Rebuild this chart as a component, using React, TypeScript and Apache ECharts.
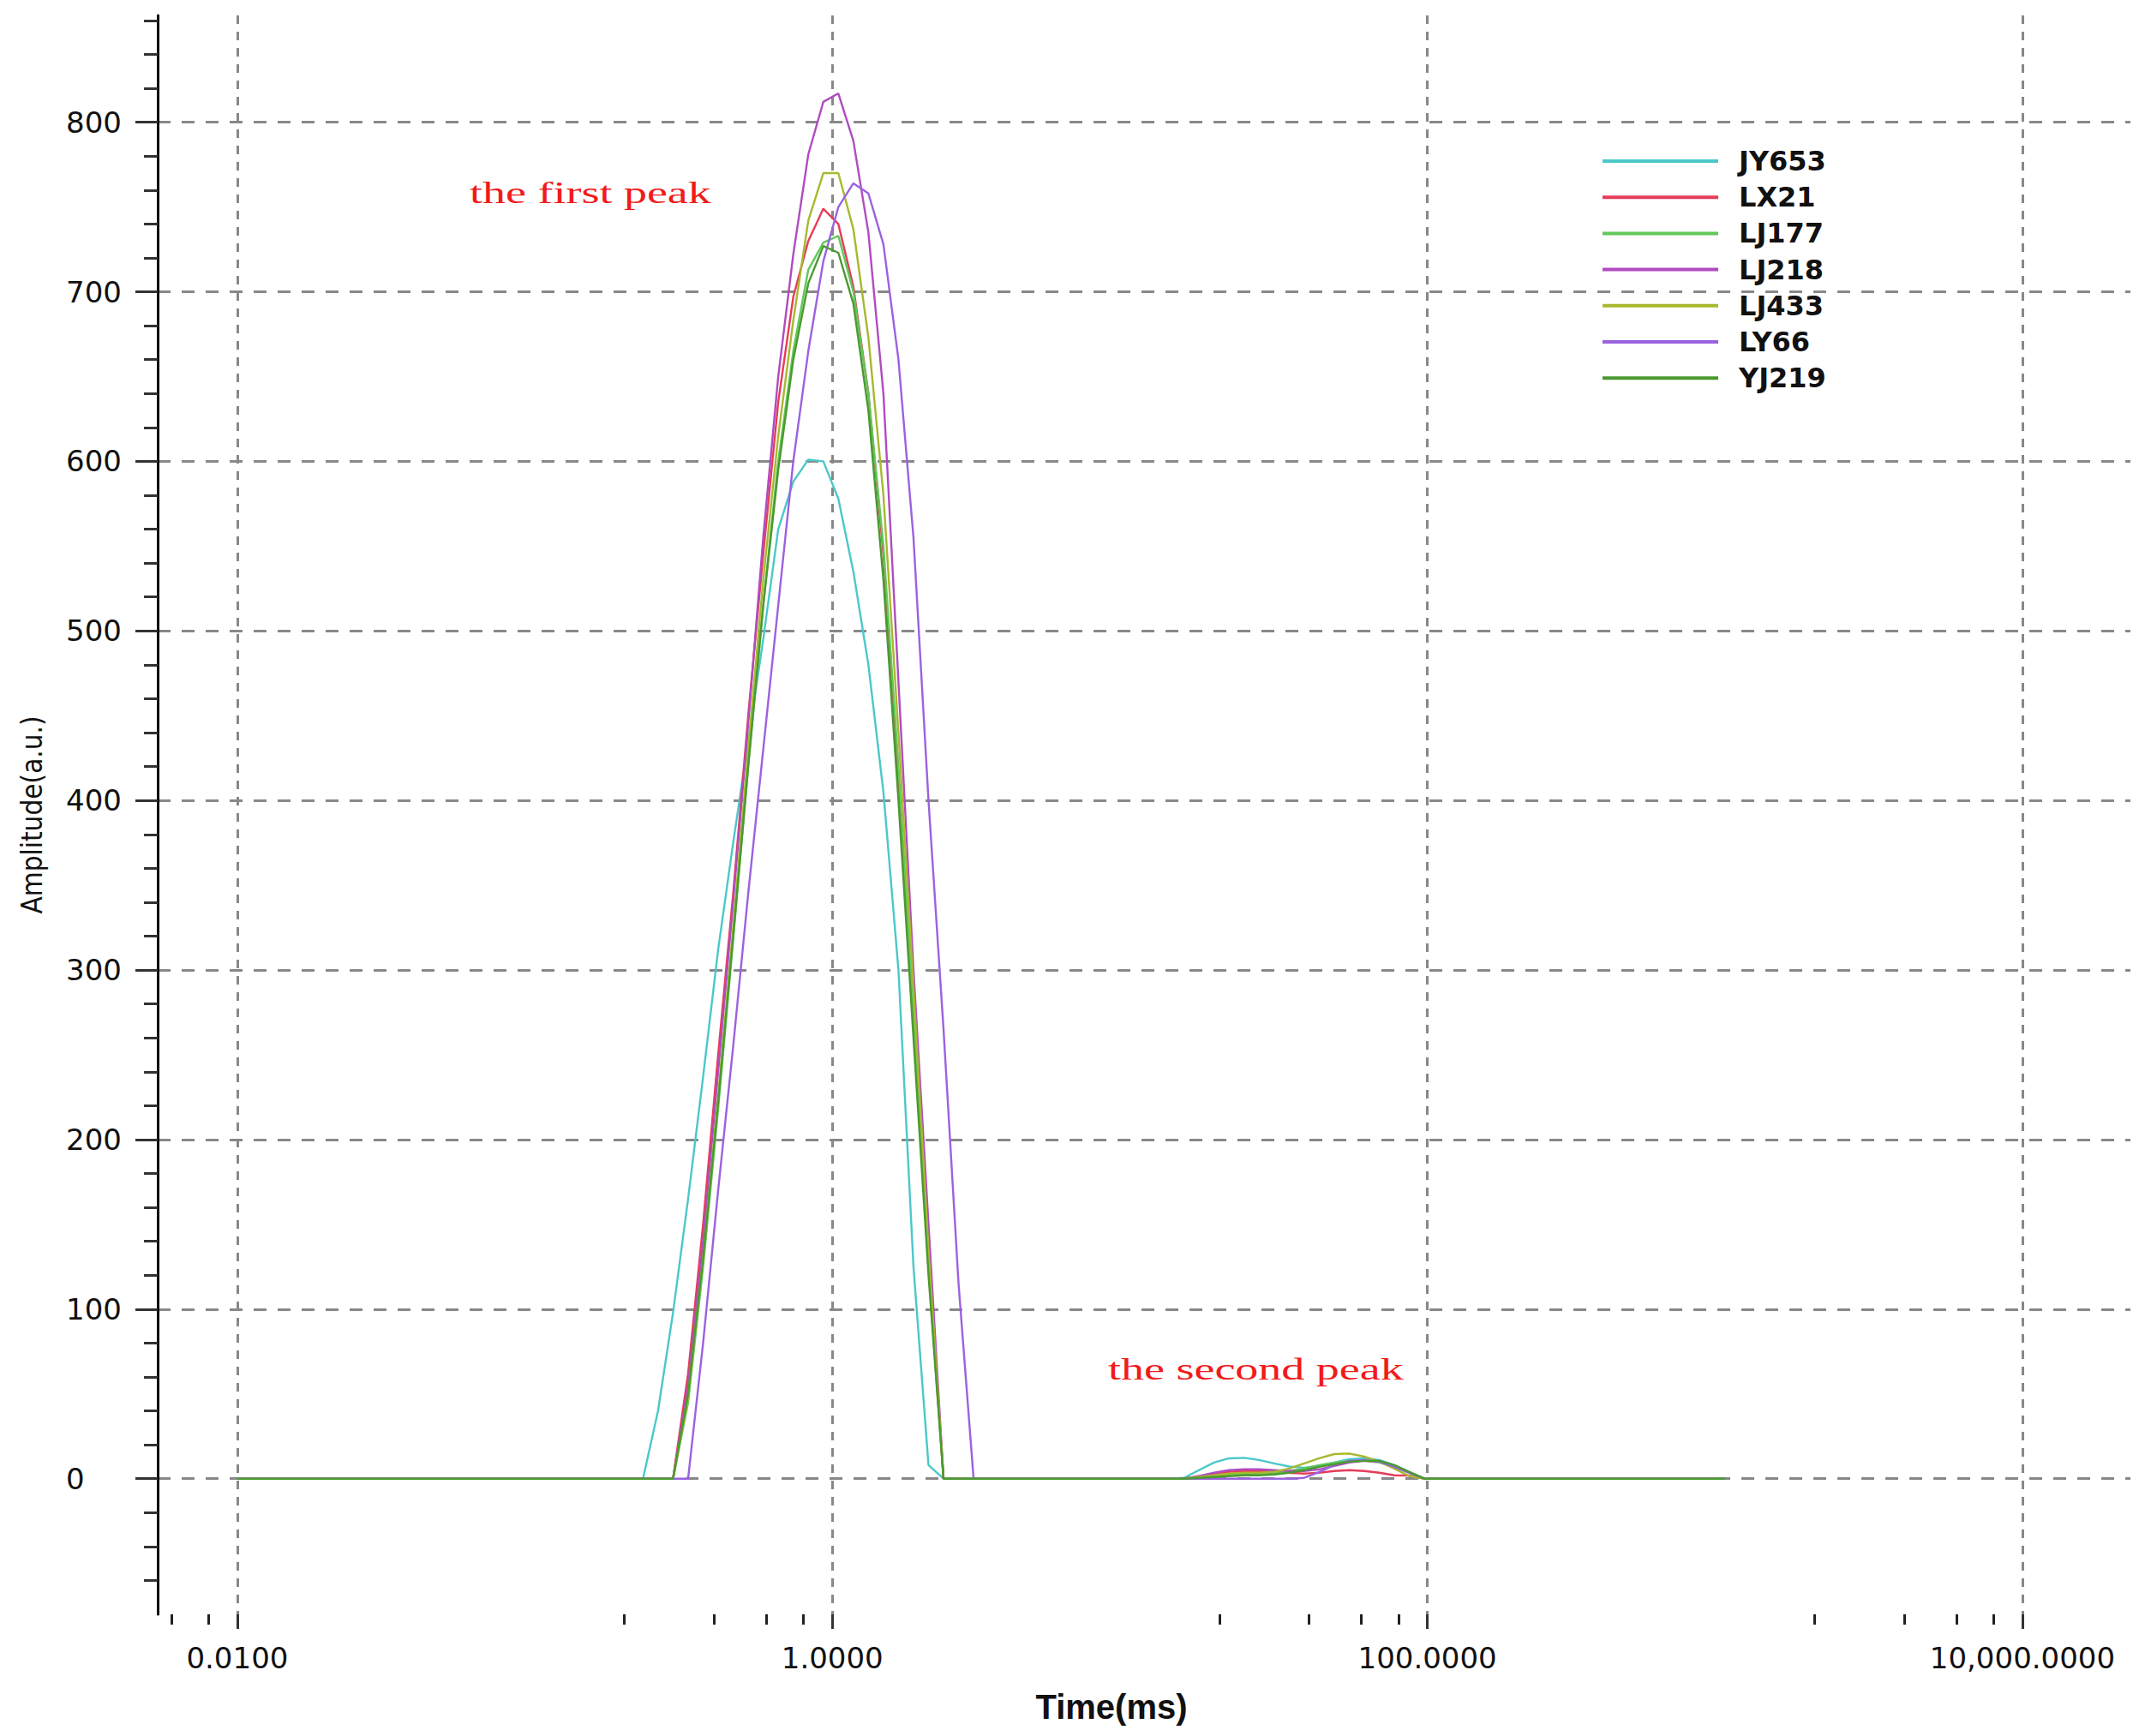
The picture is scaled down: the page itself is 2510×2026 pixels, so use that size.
import React, { useEffect, useRef } from "react";
import * as echarts from "echarts";

// Sample times (ms) of the T2-like spectra (log-spaced acquisition grid)
const TIME_MS = [
  0.01,
  0.231, 0.2595, 0.2915, 0.3275, 0.3678, 0.4132, 0.4642, 0.5214, 0.5857, 0.6579, 0.7391, 0.8302,
  0.9326, 1.0476, 1.1768, 1.3219, 1.485, 1.6681, 1.8738, 2.1049, 2.3645, 2.6561, 2.9836,
  13.53, 15.2, 17.07, 19.18, 21.54, 24.2, 27.19, 30.54, 34.31, 38.54, 43.29, 48.63, 54.62, 61.36,
  68.93, 77.43, 86.98, 97.7,
  1000,
];

const JY653 = [0, 0, 40, 98, 165, 237, 312, 375, 435, 495, 560, 588, 601, 600, 578, 535, 480, 405, 300, 125, 8, 0, 0, 0, 0, 0.5, 5, 9.5, 12, 12.3, 11, 9, 7.2, 6.5, 7.5, 9.5, 11.5, 12, 11, 8, 4, 0, 0];
const LX21 = [0, 0, 0, 0, 62, 150, 250, 345, 450, 545, 635, 697, 730, 749, 740, 703, 640, 545, 410, 268, 125, 0, 0, 0, 0, 0, 1.5, 3, 4, 4.5, 4.5, 4.2, 3.5, 3, 3.5, 4.5, 5, 4.5, 3.5, 2, 1.8, 0, 0];
const LJ177 = [0, 0, 0, 0, 45, 125, 218, 318, 420, 515, 600, 665, 713, 729, 733, 700, 640, 550, 420, 275, 128, 0, 0, 0, 0, 0, 0.5, 1.5, 2.5, 3, 3, 3.5, 4.5, 6, 8, 9.5, 10.5, 10.5, 9.5, 7, 3.5, 0, 0];
const LJ218 = [0, 0, 0, 0, 55, 140, 240, 340, 445, 555, 650, 722, 781, 812, 817, 789, 735, 640, 470, 300, 150, 0, 0, 0, 0, 0, 1.5, 3.5, 5, 5.5, 5.5, 5, 4.5, 4.5, 5.5, 7.5, 9.5, 10.5, 10, 7.5, 3.5, 0, 0];
const LJ433 = [0, 0, 0, 0, 48, 130, 225, 325, 430, 530, 615, 683, 742, 770, 770, 737, 673, 580, 440, 290, 135, 0, 0, 0, 0, 0, 1, 2, 3, 3.5, 3.5, 4, 6, 9, 12, 14.5, 14.8, 13, 10, 6, 1.5, 0, 0];
const LY66 = [0, 0, 0, 0, 0, 80, 170, 255, 345, 430, 515, 600, 665, 718, 750, 764, 758, 728, 660, 555, 400, 265, 115, 0, 0, 0, 0, 0, 0, 0, 0, 0, 0, 0.5, 4, 8, 10.5, 11, 10, 7, 3.5, 0, 0];
const YJ219 = [0, 0, 0, 0, 50, 130, 222, 320, 420, 515, 595, 660, 705, 727, 723, 693, 630, 530, 400, 260, 120, 0, 0, 0, 0, 0, 0.5, 1, 1.5, 2, 2, 2.5, 3.5, 5, 7, 8.5, 10, 10.5, 10.5, 8, 4, 0, 0];

const SERIES_NAMES = ["JY653", "LX21", "LJ177", "LJ218", "LJ433", "LY66", "YJ219"];
const SERIES_VALUES = [JY653, LX21, LJ177, LJ218, LJ433, LY66, YJ219];
const SERIES_COLORS = ["#4bc8c9", "#e63c5a", "#62c85a", "#b04cc0", "#a8b82e", "#9b62e0", "#4a9a30"];

// Axis ranges / ticks (time in ms on a log10 axis)
const X_MIN_MS = 0.0054;
const X_MAX_MS = 23070;
const X_MAJOR_MS = [0.01, 1, 100, 10000];
const X_MINOR_MS = [0.006, 0.008, 0.2, 0.4, 0.6, 0.8, 20, 40, 60, 80, 2000, 4000, 6000, 8000];
const Y_MIN = -80;
const Y_MAX = 863;
const Y_MAJOR = [0, 100, 200, 300, 400, 500, 600, 700, 800];
const Y_MINOR = [-60, -40, -20, 20, 40, 60, 80, 120, 140, 160, 180, 220, 240, 260, 280, 320, 340, 360, 380, 420, 440, 460, 480, 520, 540, 560, 580, 620, 640, 660, 680, 720, 740, 760, 780, 820, 840, 860];

const ANNOTATIONS = [
  { text: "the first peak", x: 548, y: 225 },
  { text: "the second peak", x: 1293, y: 1598 },
];

const lg = (v: number) => Math.log10(v);

function fmtTime(v: number) {
  const t = Math.pow(10, v);
  return t.toLocaleString("en-US", { minimumFractionDigits: 4, maximumFractionDigits: 4 });
}

export default function App() {
  const ref = useRef<HTMLDivElement>(null);
  useEffect(() => {
    if (!ref.current) return;
    const chart = echarts.init(ref.current, null, { renderer: "svg" });
    const labelFont = { fontFamily: "DejaVu Sans", fontSize: 34, color: "#111" };
    const option: any = {
      animation: false,
      backgroundColor: "#ffffff",
      grid: { left: 184, right: 24, top: 18, bottom: 142, containLabel: false },
      legend: {
        orient: "vertical",
        left: 1865,
        top: 167,
        icon: "rect",
        itemWidth: 135,
        itemHeight: 4,
        itemGap: 10.2,
        data: SERIES_NAMES,
        textStyle: {
          fontFamily: "DejaVu Sans",
          fontWeight: "bold",
          fontSize: 32,
          lineHeight: 30,
          color: "#111",
          padding: [0, 0, 0, 19],
        },
      },
      xAxis: [
        {
          type: "value",
          min: lg(X_MIN_MS),
          max: lg(X_MAX_MS),
          name: "Time(ms)",
          nameLocation: "middle",
          nameGap: 88,
          nameTextStyle: {
            fontFamily: "Liberation Sans",
            fontWeight: "bold",
            fontSize: 40,
            color: "#111",
            padding: [0, 76, 0, 0],
          },
          axisLine: { show: false, onZero: false },
          axisTick: {
            show: true,
            inside: false,
            length: 17,
            customValues: X_MAJOR_MS.map(lg),
            lineStyle: { color: "#333", width: 3 },
          },
          axisLabel: {
            ...labelFont,
            margin: 34,
            customValues: X_MAJOR_MS.map(lg),
            formatter: (v: number) => fmtTime(v),
          },
          splitLine: {
            show: true,
            lineStyle: { color: "#888", width: 3, type: [10, 9] },
          },
        },
        {
          type: "value",
          min: lg(X_MIN_MS),
          max: lg(X_MAX_MS),
          position: "bottom",
          axisLine: { show: false, onZero: false },
          axisTick: {
            show: true,
            inside: false,
            length: 12,
            customValues: X_MINOR_MS.map(lg),
            lineStyle: { color: "#222", width: 3 },
          },
          axisLabel: { show: false },
          splitLine: { show: false },
        },
      ],
      yAxis: [
        {
          type: "value",
          min: Y_MIN,
          max: Y_MAX,
          name: "Amplitude(a.u.)",
          nameLocation: "middle",
          nameRotate: 90,
          nameGap: 130,
          nameTextStyle: {
            fontFamily: "'Liberation Sans Narrow', 'DejaVu Sans Condensed', sans-serif",
            fontSize: 33,
            color: "#111",
          },
          axisLine: { show: true, onZero: false, lineStyle: { color: "#000", width: 3 } },
          axisTick: {
            show: true,
            length: 26,
            customValues: Y_MAJOR,
            lineStyle: { color: "#333", width: 3 },
          },
          axisLabel: {
            ...labelFont,
            align: "left",
            margin: 107,
            customValues: Y_MAJOR,
            formatter: (v: number) => String(v),
          },
          splitLine: {
            show: true,
            lineStyle: { color: "#888", width: 3, type: [15, 13] },
          },
        },
        {
          type: "value",
          min: Y_MIN,
          max: Y_MAX,
          position: "left",
          axisLine: { show: false, onZero: false },
          axisTick: {
            show: true,
            length: 16,
            customValues: Y_MINOR,
            lineStyle: { color: "#333", width: 3 },
          },
          axisLabel: { show: false },
          splitLine: { show: false },
        },
      ],
      series: SERIES_NAMES.map((name, i) => ({
        name,
        type: "line",
        xAxisIndex: 0,
        yAxisIndex: 0,
        showSymbol: false,
        symbol: "none",
        color: SERIES_COLORS[i],
        lineStyle: { color: SERIES_COLORS[i], width: 2.4 },
        data: TIME_MS.map((t, j) => [lg(t), SERIES_VALUES[i][j]]),
      })),
      graphic: ANNOTATIONS.map((a) => ({
        type: "text",
        x: a.x,
        y: a.y,
        scaleX: 1.5,
        style: {
          text: a.text,
          fill: "#f21a1a",
          fontFamily: "Liberation Serif",
          fontSize: 36,
          align: "left",
          verticalAlign: "middle",
        },
      })),
    };
    chart.setOption(option);
    return () => chart.dispose();
  }, []);
  return (
    <div
      ref={ref}
      style={{ position: "fixed", left: 0, top: 0, width: 2510, height: 2026, background: "#fff" }}
    />
  );
}
